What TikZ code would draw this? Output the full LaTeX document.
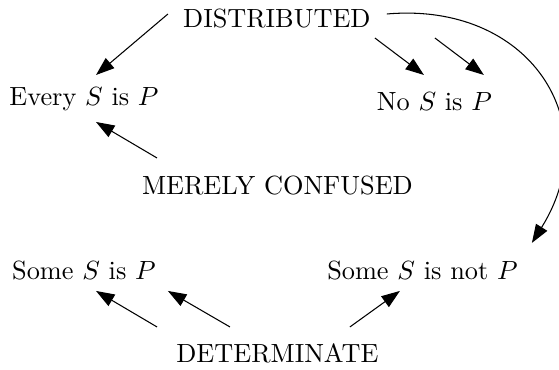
\documentclass[tikz,border=0pt]{standalone}
\usepackage{amsmath, amssymb}
\usepackage{tikz}
\usetikzlibrary{arrows.meta, positioning}
\tikzset{
  term/.style={inner sep=0pt, anchor=base},
  arr/.style={-{Triangle[length=7pt, width=5pt]}, line width=0.4pt},
}
\begin{document}
\begin{tikzpicture}
    %% frame of the picture
    \useasboundingbox (0,0) rectangle (7.47,-4.94);
    %% the three kinds of supposition
    \node[term] (dist)   at (3.70,-0.361) {DISTRIBUTED};
    \node[term] (merely) at (3.707,-2.605) {MERELY CONFUSED};
    \node[term] (det)    at (3.707,-4.850) {DETERMINATE};
    %% the four propositions
    \node[term] (every)   at (1.122,-1.416) {Every $S$ is $P$};
    \node[term] (no)      at (5.805,-1.470) {No $S$ is $P$};
    \node[term] (some)    at (1.122,-3.741) {Some $S$ is $P$};
    \node[term] (somenot) at (5.645,-3.741) {Some $S$ is not $P$};
    %% arrows
    \draw[arr] ([shift={(-1.456,0.174)}]dist.base) -- ([shift={(0.161,0.414)}]every.base);
    \draw[arr] ([shift={(-1.609,0.494)}]merely.base) -- ([shift={(0.161,-0.214)}]every.base);
    \draw[arr] ([shift={(1.31,-0.147)}]dist.base) -- ([shift={(-0.14,0.468)}]no.base);
    \draw[arr] ([shift={(2.112,-0.147)}]dist.base) -- ([shift={(0.661,0.468)}]no.base);
    \draw[arr] ([shift={(1.47,0.174)}]dist.base) to[out=5, in=58, looseness=1.35]
               ([shift={(1.463,0.495)}]somenot.base);
    \draw[arr] ([shift={(-1.609,0.481)}]det.base) -- ([shift={(0.161,-0.147)}]some.base);
    \draw[arr] ([shift={(-0.634,0.481)}]det.base) -- ([shift={(1.122,-0.147)}]some.base);
    \draw[arr] ([shift={(0.969,0.481)}]det.base) -- ([shift={(-0.301,-0.147)}]somenot.base);
\end{tikzpicture}
\end{document}
